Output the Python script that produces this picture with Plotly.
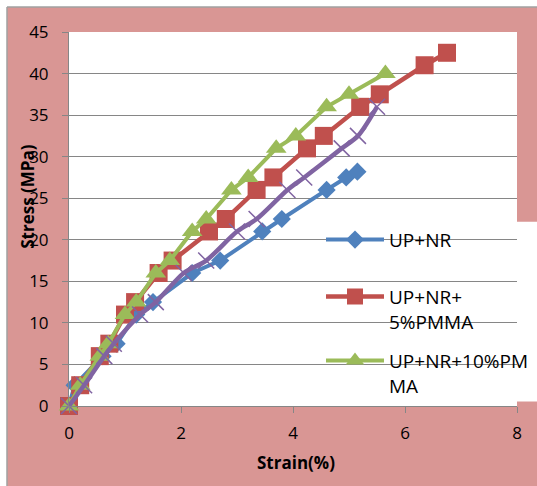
import plotly.graph_objects as go

# ---------------- data ----------------
nr_strain = [0, 0.1, 0.6, 0.85, 1.2, 1.5, 2.2, 2.7, 3.45, 3.8, 4.6, 4.95, 5.15]
nr_stress = [0, 2.5, 6, 7.5, 11, 12.5, 16, 17.5, 21, 22.5, 26, 27.5, 28.2]

p5_strain = [0, 0.2, 0.55, 0.72, 1.0, 1.18, 1.6, 1.85, 2.5, 2.8, 3.35, 3.65, 4.25, 4.55, 5.2, 5.55, 6.35, 6.75]
p5_stress = [0, 2.5, 6, 7.5, 11, 12.5, 16, 17.5, 21, 22.5, 26, 27.5, 31, 32.5, 36, 37.5, 41, 42.5]

p10_strain = [0, 0.2, 0.55, 0.7, 1.0, 1.2, 1.55, 1.8, 2.2, 2.45, 2.9, 3.2, 3.7, 4.05, 4.6, 5.0, 5.65]
p10_stress = [0, 2.5, 6, 7.5, 11, 12.5, 16, 17.5, 21, 22.5, 26, 27.5, 31, 32.5, 36, 37.5, 40]

s4_strain = [0, 0.27, 0.63, 0.8, 1.27, 1.55, 2.05, 2.45, 3.0, 3.35, 3.9, 4.2, 4.87, 5.16, 5.5]
s4_stress = [0, 2.5, 6, 7.5, 11, 12.5, 16, 17.5, 21, 22.5, 26, 27.5, 31, 32.5, 36]

names = ["UP+NR", "UP+NR+<br>5%PMMA", "UP+NR+10%PM<br>MA"]
x_ticks = [0, 2, 4, 6, 8]
y_ticks = [0, 5, 10, 15, 20, 25, 30, 35, 40, 45]

BLUE, RED, GREEN, PURPLE = "#4F81BD", "#C0504D", "#9BBB59", "#8064A2"
PINK = "#D99694"
GRID = "#868686"
FONT = "Open Sans"

fig = go.Figure()
fig.add_trace(go.Scatter(x=nr_strain, y=nr_stress, name=names[0], mode="lines+markers",
                         line=dict(color=BLUE, width=4),
                         marker=dict(symbol="diamond", size=14, color=BLUE),
                         cliponaxis=False, legend="legend"))
fig.add_trace(go.Scatter(x=p5_strain, y=p5_stress, name=names[1], mode="lines+markers",
                         line=dict(color=RED, width=4.5),
                         marker=dict(symbol="square", size=18, color=RED),
                         cliponaxis=False, legend="legend2"))
fig.add_trace(go.Scatter(x=p10_strain, y=p10_stress, name=names[2], mode="lines+markers",
                         line=dict(color=GREEN, width=4),
                         marker=dict(symbol="triangle-up", size=18, color=GREEN),
                         cliponaxis=False, legend="legend3"))
fig.add_trace(go.Scatter(x=s4_strain, y=s4_stress, name="series4", mode="lines+markers",
                         line=dict(color=PURPLE, width=4.5, shape="spline", smoothing=0.8),
                         marker=dict(symbol="x-thin-open", size=16, color=PURPLE,
                                     line=dict(color=PURPLE, width=1.5)),
                         cliponaxis=False, showlegend=False))

L, T, W, H = 69, 32, 448, 374.5
def px(x):
    return (x - L) / W
def py(y):
    return (T + H - y) / H

leg_common = dict(bgcolor="rgba(0,0,0,0)", font=dict(family=FONT, size=19, color="#000"),
                  xanchor="left", yanchor="top", valign="top", itemwidth=58,
                  borderwidth=0, tracegroupgap=0)

fig.update_layout(
    width=537, height=486, autosize=False,
    margin=dict(l=L, r=537 - L - W, t=T, b=486 - T - H, pad=0, autoexpand=False),
    paper_bgcolor=PINK, plot_bgcolor="white",
    font=dict(family=FONT, size=17, color="#000"),
    legend=dict(x=px(321), y=py(221), **leg_common),
    legend2=dict(x=px(321), y=py(278), **leg_common),
    legend3=dict(x=px(321), y=py(342), **leg_common),
    xaxis=dict(range=[0, 8], tickvals=x_ticks, showgrid=False, zeroline=False,
               showline=True, linecolor=GRID, linewidth=1, automargin=False,
               ticks="outside", ticklen=6, tickcolor=GRID, tickwidth=1,
               ticklabelstandoff=6, tickfont=dict(family=FONT, size=17)),
    yaxis=dict(range=[0, 45], tickvals=y_ticks, showgrid=True, gridcolor=GRID, gridwidth=1,
               zeroline=False, showline=True, linecolor=GRID, linewidth=1, automargin=False,
               ticks="outside", ticklen=6, tickcolor=GRID, tickwidth=1,
               ticklabelstandoff=10, tickfont=dict(family=FONT, size=17)),
    showlegend=True,
)

# white area behind legend (hides gridlines)
fig.add_shape(type="rect", xref="paper", yref="paper",
              x0=px(318), x1=px(545), y0=py(402), y1=py(222),
              fillcolor="white", line=dict(width=0), layer="between")
# outer white strips and chart-area border
fig.add_shape(type="rect", xref="paper", yref="paper",
              x0=px(-10), x1=px(550), y0=py(7), y1=py(-10),
              fillcolor="white", line=dict(width=0))
fig.add_shape(type="rect", xref="paper", yref="paper",
              x0=px(-10), x1=px(7), y0=py(500), y1=py(-10),
              fillcolor="white", line=dict(width=0))
fig.add_shape(type="line", xref="paper", yref="paper",
              x0=px(7), x1=px(550), y0=py(7), y1=py(7), line=dict(color="#A0A0A0", width=1.5))
fig.add_shape(type="line", xref="paper", yref="paper",
              x0=px(7), x1=px(7), y0=py(7), y1=py(500), line=dict(color="#A0A0A0", width=1.5))

# axis titles
fig.add_annotation(text="<b>Strain(%)</b>", xref="paper", yref="paper",
                   x=px(296), y=py(463), showarrow=False, xanchor="center", yanchor="middle",
                   font=dict(family=FONT, size=17, color="#000"))
fig.add_annotation(text="<b>Stress (MPa)</b>", xref="paper", yref="paper",
                   x=px(28), y=py(197), showarrow=False, textangle=-90,
                   xanchor="center", yanchor="middle",
                   font=dict(family=FONT, size=17, color="#000"))

fig.write_html("out.html")
